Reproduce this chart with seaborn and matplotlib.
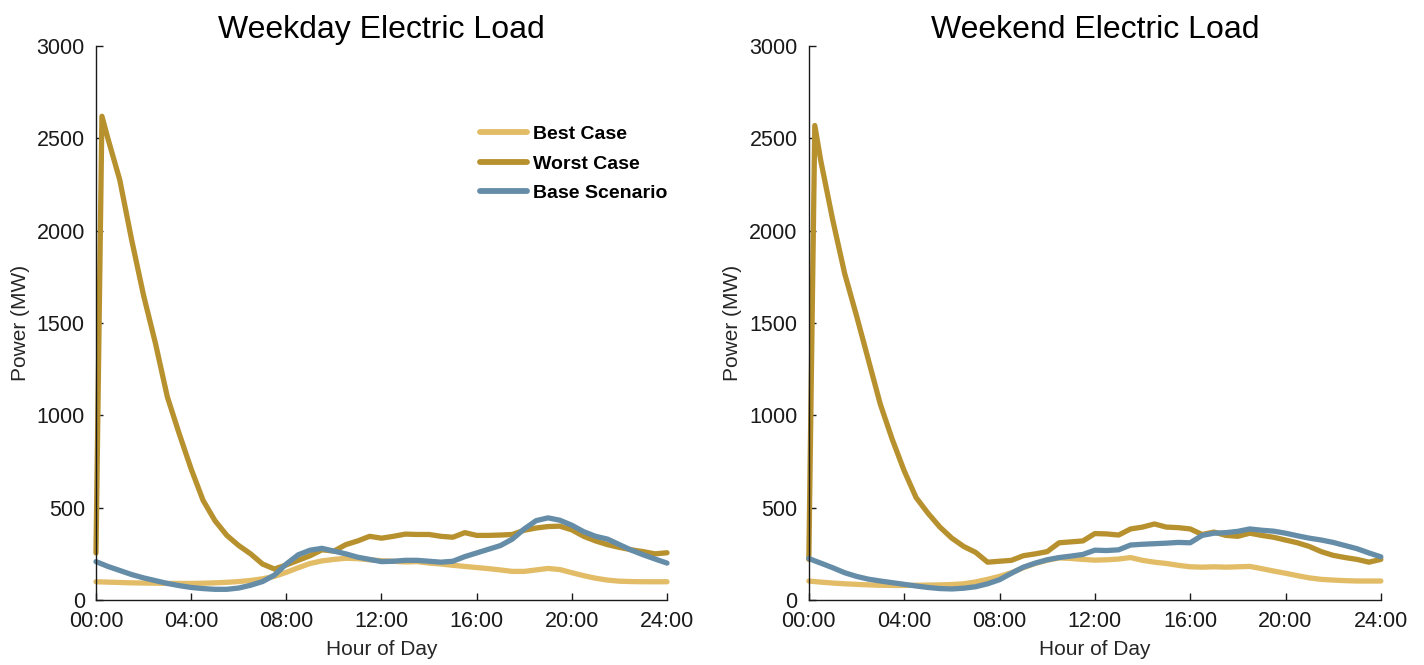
import seaborn as sns
import matplotlib.pyplot as plt
import pandas as pd
import numpy as np

sns.set_style("ticks")
plt.rcParams['font.family'] = ['Liberation Sans', 'DejaVu Sans']

# Hour of day: half-hour readings, plus the 00:15 spike sample
hours = [0, 0.25] + [h / 2 for h in range(1, 49)]

weekday_best = [99, 98, 97, 95, 93, 92, 91, 90, 90, 90, 91, 93, 96, 100, 106, 115,
                128, 150, 175, 198, 212, 220, 226, 224, 218, 213, 210, 206, 208, 200,
                195, 188, 182, 176, 170, 163, 155, 155, 163, 171, 165, 148, 132, 118,
                108, 102, 100, 99, 99, 99]
weekday_worst = [255, 2620, 2500, 2275, 1950, 1650, 1390, 1100, 900, 710, 540, 430,
                 350, 295, 250, 195, 168, 190, 215, 240, 272, 265, 300, 320, 345, 335,
                 345, 357, 355, 355, 345, 340, 365, 350, 350, 352, 355, 378, 390, 398,
                 400, 380, 345, 320, 300, 285, 272, 262, 250, 256]
weekday_base = [208, 195, 182, 160, 138, 120, 105, 90, 78, 68, 62, 58, 58, 65, 80, 100,
                135, 195, 245, 270, 280, 265, 250, 232, 220, 208, 210, 215, 215, 210,
                205, 210, 235, 255, 275, 295, 330, 385, 430, 445, 432, 405, 370, 345,
                330, 300, 270, 245, 222, 200]

weekend_best = [103, 100, 97, 92, 88, 85, 82, 80, 79, 79, 80, 81, 82, 84, 88, 98, 112,
                128, 148, 175, 198, 215, 228, 225, 220, 216, 218, 222, 230, 215, 205,
                198, 188, 180, 178, 180, 178, 180, 182, 170, 157, 145, 132, 120, 112,
                108, 105, 103, 103, 103]
weekend_worst = [220, 2570, 2380, 2060, 1770, 1540, 1300, 1060, 870, 700, 555, 470, 395,
                 335, 290, 258, 205, 210, 215, 240, 250, 262, 310, 315, 320, 360, 358,
                 352, 385, 395, 412, 395, 392, 385, 355, 368, 350, 345, 362, 350, 340,
                 325, 310, 290, 262, 242, 230, 220, 205, 220]
weekend_base = [225, 212, 200, 175, 148, 128, 113, 103, 94, 85, 76, 68, 62, 60, 64, 72,
                88, 110, 145, 178, 200, 218, 230, 238, 247, 270, 268, 272, 298, 302,
                305, 308, 312, 310, 350, 362, 365, 372, 385, 378, 373, 362, 348, 335,
                325, 312, 295, 278, 255, 234]

scenarios = ['Best Case', 'Worst Case', 'Base Scenario']
colors = {'Best Case': '#E2BC66', 'Worst Case': '#B8912F', 'Base Scenario': '#668DA8'}
x_ticks = [0, 4, 8, 12, 16, 20, 24]
x_labels = ['00:00', '04:00', '08:00', '12:00', '16:00', '20:00', '24:00']


def to_frame(best, worst, base):
    parts = []
    for name, vals in zip(scenarios, [best, worst, base]):
        parts.append(pd.DataFrame({'hour': hours, 'power': vals, 'scenario': name}))
    return pd.concat(parts, ignore_index=True)


panels = [
    ('Weekday Electric Load', to_frame(weekday_best, weekday_worst, weekday_base)),
    ('Weekend Electric Load', to_frame(weekend_best, weekend_worst, weekend_base)),
]

fig = plt.figure(figsize=(14.24, 6.65), dpi=100)
axes = [fig.add_axes([0.0674, 0.0977, 0.401, 0.833]),
        fig.add_axes([0.568, 0.0977, 0.4017, 0.833])]

for i, (ax, (title, df)) in enumerate(zip(axes, panels)):
    sns.lineplot(data=df, x='hour', y='power', hue='scenario', hue_order=scenarios,
                 palette=colors, linewidth=3.8, estimator=None, sort=False,
                 legend=(i == 0), ax=ax, clip_on=False)
    ax.set_xlim(0, 24)
    ax.set_ylim(0, 3000)
    ax.set_xticks(x_ticks)
    ax.set_xticklabels(x_labels)
    ax.set_yticks(range(0, 3001, 500))
    ax.tick_params(direction='in', length=5, width=1, labelsize=15.5,
                   colors='#1a1a1a', pad=8)
    sns.despine(ax=ax)
    for s in ['left', 'bottom']:
        ax.spines[s].set_color('#1a1a1a')
        ax.spines[s].set_linewidth(1)
    ax.set_title(title, fontsize=23, pad=6, color='black')
    ax.set_xlabel('Hour of Day', fontsize=15, color='#262626', labelpad=6)
    ax.set_ylabel('Power (MW)', fontsize=15, color='#262626', labelpad=5)

leg = axes[0].legend(loc='upper right', bbox_to_anchor=(1.0, 0.857), frameon=False,
                     borderaxespad=0, borderpad=0, handlelength=2.42, handletextpad=0.31,
                     labelspacing=0.62, prop={'weight': 'bold', 'size': 14})
for text in leg.get_texts():
    text.set_color('black')
for line in leg.get_lines():
    line.set_linewidth(4.2)

plt.savefig('out.png', dpi=100, facecolor='white')
plt.close()
